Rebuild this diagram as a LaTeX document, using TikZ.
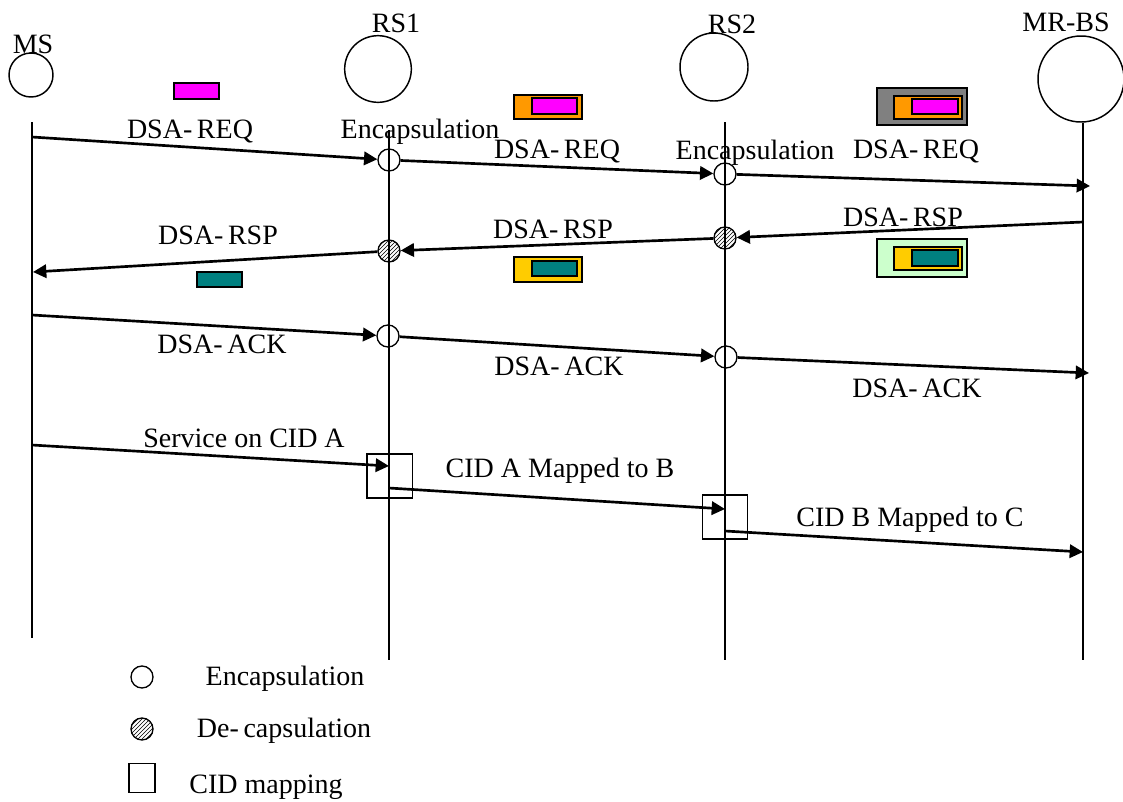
\documentclass[tikz,border=0pt]{standalone}
\usepackage{fontspec}
\setmainfont{Liberation Serif}
\usetikzlibrary{arrows.meta, patterns}
\definecolor{pktmag}{HTML}{FF00FF}
\definecolor{pktorange}{HTML}{FF9900}
\definecolor{pktgrey}{HTML}{808080}
\definecolor{pktteal}{HTML}{008080}
\definecolor{pktyellow}{HTML}{FFCC00}
\definecolor{pktgreen}{HTML}{CCFFCC}
\tikzset{
	head/.style = {draw, circle, line width=1.1pt, inner sep=0pt},
	encap/.style = {draw, circle, line width=1pt, minimum size=16.5pt, inner sep=0pt},
	decap/.style = {encap, pattern=north east lines},
	cidmap/.style = {draw, rectangle, line width=1pt, inner sep=0pt, minimum width=34pt, minimum height=33pt},
	msg/.style = {line width=2pt, -{Triangle[length=10pt,width=10pt]}},
	life/.style = {line width=1pt},
	lbl/.style = {anchor=base, inner sep=0pt, font=\fontsize{21}{25}\selectfont},
	pkt/.style = {draw, line width=0.9pt},
}

\begin{document}
\begin{tikzpicture}[x=0.75pt, y=-0.75pt]
	\useasboundingbox (0,0) rectangle (1123,801);
	
	% stations
	\node [head, minimum size=33pt] (ms) at (31,75) {};
	\node [head, minimum size=50pt] (rs1) at (378,69) {};
	\node [head, minimum size=51pt] (rs2) at (714,67) {};
	\node [head, minimum size=64.5pt] (bs) at (1081,79) {};
	
	\node [lbl] (ms label) at (33,53) {MS};
	\node [lbl] (rs1 label) at (396,32) {RS1};
	\node [lbl] (rs2 label) at (732,33) {RS2};
	\node [lbl] (bs label) at (1066,31) {MR-BS};
	
	% lifelines
	\coordinate (ms top) at (32,122);
	\coordinate (ms bot) at (32,638);
	\coordinate (rs1 top) at (389,130);
	\coordinate (rs1 bot) at (389,660);
	\coordinate (rs2 top) at (725,122);
	\coordinate (rs2 bot) at (725,660);
	\coordinate (bs top) at (1083,123);
	\coordinate (bs bot) at (1083,660);
	
	\draw [life] (ms top) -- (ms bot);
	\draw [life] (rs1 top) -- (rs1 bot);
	\draw [life] (rs2 top) -- (rs2 bot);
	\draw [life] (bs top) -- (bs bot);
	
	% DSA-REQ
	\node [encap] (enc11) at (389,160) {};
	\node [encap] (enc12) at (725,174) {};
	\coordinate (req start) at (32,137);
	\coordinate (req end) at (1090,186);
	
	\draw [msg] (req start) -- (enc11);
	\draw [msg] (enc11) -- (enc12);
	\draw [msg] (enc12) -- (req end);
	
	\node [lbl] (req1) at (190,138) {DSA-\,REQ};
	\node [lbl] (enc11 label) at (420,138) {Encapsulation};
	\node [lbl] (req2) at (557,158) {DSA-\,REQ};
	\node [lbl] (enc12 label) at (755,159) {Encapsulation};
	\node [lbl] (req3) at (916,158) {DSA-\,REQ};
	
	\draw [pkt, fill=pktmag] (174,83) rectangle (219,99);
	\draw [pkt, fill=pktorange] (514,95) rectangle (582,119);
	\draw [pkt, fill=pktmag] (532,98) rectangle (577,114);
	\draw [pkt, fill=pktgrey] (877,88) rectangle (967,125);
	\draw [pkt, fill=pktorange] (894,96) rectangle (962,119);
	\draw [pkt, fill=pktmag] (912,99) rectangle (958,114);
	
	% DSA-RSP
	\node [decap] (dec11) at (389,251) {};
	\node [decap] (dec12) at (725,238) {};
	\coordinate (rsp start) at (1083,222);
	\coordinate (rsp end) at (33,272);
	
	\draw [msg] (rsp start) -- (dec12);
	\draw [msg] (dec12) -- (dec11);
	\draw [msg] (dec11) -- (rsp end);
	
	\node [lbl] (rsp1) at (218,244) {DSA-\,RSP};
	\node [lbl] (rsp2) at (553,238) {DSA-\,RSP};
	\node [lbl] (rsp3) at (903,226) {DSA-\,RSP};
	
	\draw [pkt, fill=pktteal] (197,272) rectangle (242,287);
	\draw [pkt, fill=pktyellow] (514,257) rectangle (582,282);
	\draw [pkt, fill=pktteal] (532,261) rectangle (577,276);
	\draw [pkt, fill=pktgreen] (877,239) rectangle (967,277);
	\draw [pkt, fill=pktyellow] (894,247) rectangle (962,270);
	\draw [pkt, fill=pktteal] (912,250) rectangle (958,266);
	
	% DSA-ACK
	\node [encap] (enc21) at (388,336) {};
	\node [encap] (enc22) at (726,357) {};
	\coordinate (ack start) at (32,315);
	\coordinate (ack end) at (1089,373);
	
	\draw [msg] (ack start) -- (enc21);
	\draw [msg] (enc21) -- (enc22);
	\draw [msg] (enc22) -- (ack end);
	
	\node [lbl] (ack1) at (222,353) {DSA-\,ACK};
	\node [lbl] (ack2) at (559,375) {DSA-\,ACK};
	\node [lbl] (ack3) at (917,397) {DSA-\,ACK};
	
	% service flow
	\node [cidmap] (map1) at (389.5,476) {};
	\node [cidmap] (map2) at (725,517) {};
	\coordinate (svc start) at (32,445);
	\coordinate (map1 in) at (389,466);
	\coordinate (map1 out) at (389,488);
	\coordinate (map2 in) at (725,509);
	\coordinate (map2 out) at (725,531);
	\coordinate (svc end) at (1083,552);
	
	\draw [msg] (svc start) -- (map1 in);
	\draw [msg] (map1 out) -- (map2 in);
	\draw [msg] (map2 out) -- (svc end);
	
	\node [lbl] (svc label) at (244,447) {Service on CID A};
	\node [lbl] (map1 label) at (560,477) {CID A Mapped to B};
	\node [lbl] (map2 label) at (910,526) {CID B Mapped to C};
	
	% legend
	\node [encap] (key enc) at (142,677) {};
	\node [decap] (key dec) at (142,729) {};
	\node [cidmap, minimum width=19.5pt, minimum height=22pt] (key map) at (142,778) {};
	
	\node [lbl] (key enc label) at (285,685) {Encapsulation};
	\node [lbl] (key dec label) at (284,737) {De-\,capsulation};
	\node [lbl] (key map label) at (266,793) {CID mapping};
\end{tikzpicture}
\end{document}
